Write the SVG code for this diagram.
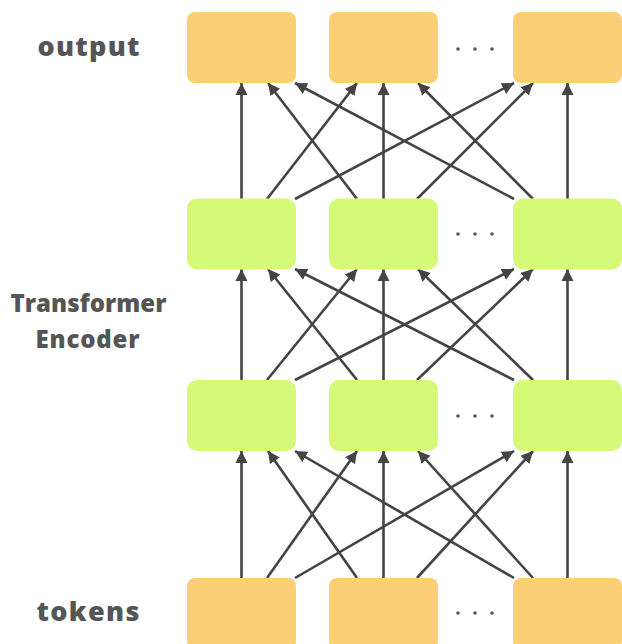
<svg xmlns="http://www.w3.org/2000/svg" width="622" height="644" viewBox="0 0 622 644">
<style>
.out{fill:#fbcf76}
.enc{fill:#d6fa78}
.lbl{font-family:"Open Sans",Lato,"Liberation Sans",sans-serif;font-weight:800;font-size:24px;fill:#555555}
.big{font-size:27px}
.c line{stroke:#444444;stroke-width:2.6;fill:none;marker-end:url(#ah)}
.dot{fill:#555555}
</style>
<defs>
<marker id="ah" markerUnits="userSpaceOnUse" markerWidth="14" markerHeight="14" refX="12" refY="6" orient="auto" viewBox="0 0 14 12">
<path d="M0,0 L12,6 L0,12 Z" fill="#444444"/>
</marker>
</defs>
<rect width="622" height="644" fill="#ffffff"/>
<text class="lbl big" x="88.5" y="56" text-anchor="middle" textLength="102" lengthAdjust="spacing">output</text>
<text class="lbl" x="88.5" y="312" text-anchor="middle" textLength="156" lengthAdjust="spacing">Transformer</text>
<text class="lbl" x="87.5" y="348" text-anchor="middle" textLength="104" lengthAdjust="spacing">Encoder</text>
<text class="lbl big" x="88" y="621" text-anchor="middle" textLength="103" lengthAdjust="spacing">tokens</text>
<g class="c" id="connectors">
<line x1="241.5" y1="578" x2="241.5" y2="451"/>
<line x1="383.5" y1="578" x2="383.5" y2="451"/>
<line x1="567.5" y1="578" x2="567.5" y2="451"/>
<line x1="267" y1="578" x2="357" y2="451"/>
<line x1="357" y1="578" x2="268" y2="451"/>
<line x1="417" y1="578" x2="533" y2="451"/>
<line x1="533" y1="578" x2="418" y2="451"/>
<line x1="295" y1="578" x2="514" y2="451"/>
<line x1="514" y1="578" x2="295" y2="451"/>
<line x1="241.5" y1="380" x2="241.5" y2="269"/>
<line x1="383.5" y1="380" x2="383.5" y2="269"/>
<line x1="567.5" y1="380" x2="567.5" y2="269"/>
<line x1="267" y1="380" x2="357" y2="269"/>
<line x1="357" y1="380" x2="268" y2="269"/>
<line x1="417" y1="380" x2="533" y2="269"/>
<line x1="533" y1="380" x2="418" y2="269"/>
<line x1="295" y1="380" x2="514" y2="269"/>
<line x1="514" y1="380" x2="295" y2="269"/>
<line x1="241.5" y1="199" x2="241.5" y2="83"/>
<line x1="383.5" y1="199" x2="383.5" y2="83"/>
<line x1="567.5" y1="199" x2="567.5" y2="83"/>
<line x1="267" y1="199" x2="357" y2="83"/>
<line x1="357" y1="199" x2="268" y2="83"/>
<line x1="417" y1="199" x2="533" y2="83"/>
<line x1="533" y1="199" x2="418" y2="83"/>
<line x1="295" y1="199" x2="514" y2="83"/>
<line x1="514" y1="199" x2="295" y2="83"/>
</g>
<g id="out1"><rect class="out" x="187" y="12" width="109" height="71" rx="8"/></g>
<g id="out2"><rect class="out" x="329" y="12" width="109" height="71" rx="8"/></g>
<g id="out3"><rect class="out" x="513" y="12" width="109" height="71" rx="8"/></g>
<g id="outdots"><circle class="dot" cx="458" cy="49" r="1.8"/><circle class="dot" cx="475" cy="49" r="1.8"/><circle class="dot" cx="492" cy="49" r="1.8"/></g>
<g id="l2n1"><rect class="enc" x="187" y="198.5" width="109" height="71" rx="10"/></g>
<g id="l2n2"><rect class="enc" x="329" y="198.5" width="109" height="71" rx="10"/></g>
<g id="l2n3"><rect class="enc" x="513" y="198.5" width="109" height="71" rx="10"/></g>
<g id="l2dots"><circle class="dot" cx="458" cy="234" r="1.8"/><circle class="dot" cx="475" cy="234" r="1.8"/><circle class="dot" cx="492" cy="234" r="1.8"/></g>
<g id="l3n1"><rect class="enc" x="187" y="380" width="109" height="71" rx="10"/></g>
<g id="l3n2"><rect class="enc" x="329" y="380" width="109" height="71" rx="10"/></g>
<g id="l3n3"><rect class="enc" x="513" y="380" width="109" height="71" rx="10"/></g>
<g id="l3dots"><circle class="dot" cx="458" cy="416" r="1.8"/><circle class="dot" cx="475" cy="416" r="1.8"/><circle class="dot" cx="492" cy="416" r="1.8"/></g>
<g id="tok1"><rect class="out" x="187" y="578" width="109" height="71" rx="8"/></g>
<g id="tok2"><rect class="out" x="329" y="578" width="109" height="71" rx="8"/></g>
<g id="tok3"><rect class="out" x="513" y="578" width="109" height="71" rx="8"/></g>
<g id="tokdots"><circle class="dot" cx="458" cy="613" r="1.8"/><circle class="dot" cx="475" cy="613" r="1.8"/><circle class="dot" cx="492" cy="613" r="1.8"/></g>
</svg>
